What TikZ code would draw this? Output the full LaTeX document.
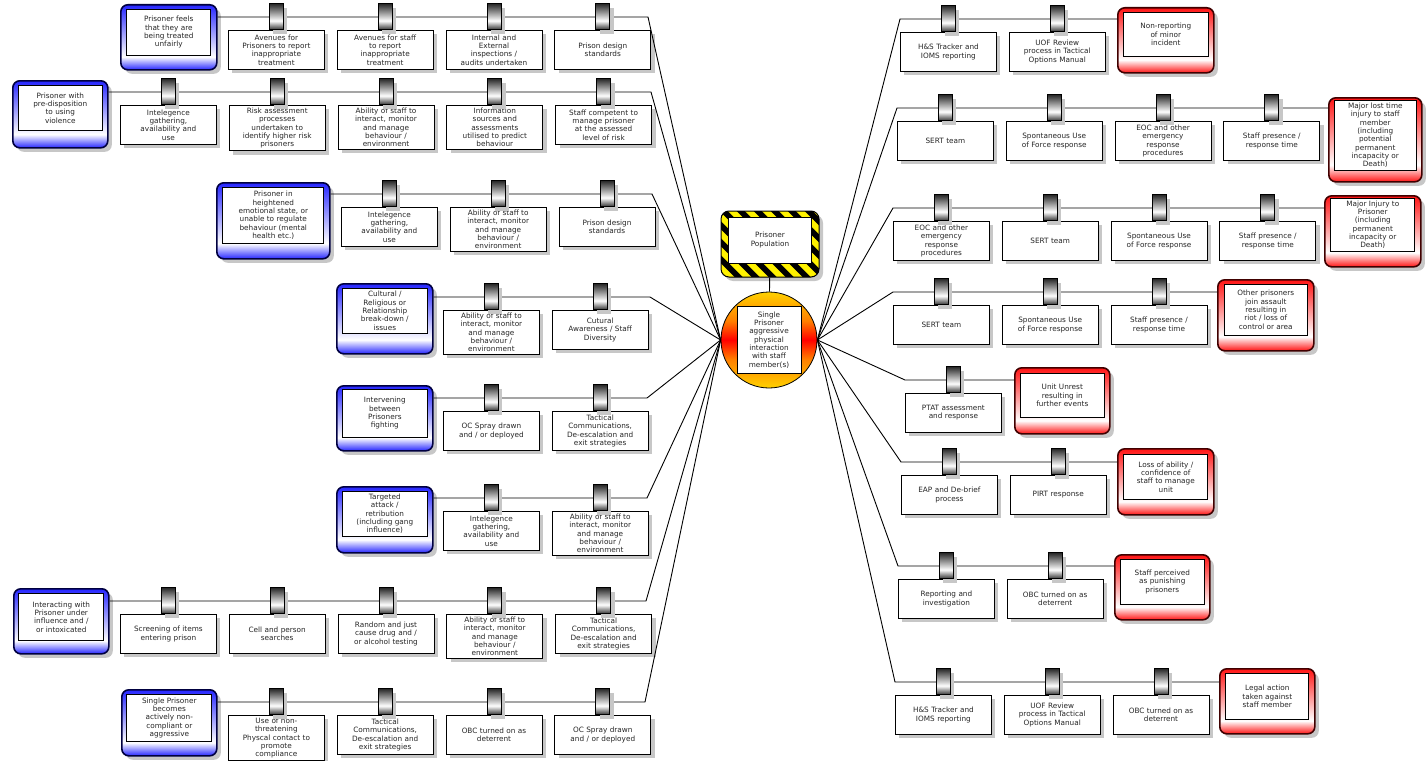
\documentclass[tikz,border=0pt]{standalone}
\usepackage{fontspec}
\setmainfont{DejaVu Sans}
\usetikzlibrary{calc,positioning,shadows}
\definecolor{thrblue}{rgb}{0.15,0.15,1.0}
\definecolor{thredge}{rgb}{0.0,0.0,0.25}
\definecolor{conred}{rgb}{1.0,0.08,0.08}
\definecolor{conedge}{rgb}{0.25,0.0,0.0}
\definecolor{evyellow}{rgb}{1.0,0.82,0.0}
\definecolor{evorange}{rgb}{1.0,0.5,0.0}
\definecolor{txtgray}{rgb}{0.15,0.15,0.15}
\definecolor{shgray}{rgb}{0.78,0.78,0.78}
\newcommand{\fnt}{\fontsize{7.3}{8.3}\selectfont}
\pgfdeclareverticalshading{blueband}{100bp}{color(0bp)=(thrblue); color(25bp)=(thrblue); color(35bp)=(white); color(75bp)=(thrblue); color(100bp)=(thrblue)}
\pgfdeclareverticalshading{redband}{100bp}{color(0bp)=(conred); color(25bp)=(conred); color(35bp)=(white); color(75bp)=(conred); color(100bp)=(conred)}
\pgfdeclareverticalshading{barrel}{100bp}{color(0bp)=(black!80); color(25bp)=(black!80); color(42bp)=(white); color(75bp)=(black!85); color(100bp)=(black!85)}
\pgfdeclareverticalshading{evshade}{100bp}{color(0bp)=(evyellow); color(25bp)=(evyellow); color(40bp)=(evorange); color(50bp)=(red); color(60bp)=(evorange); color(75bp)=(evyellow); color(100bp)=(evyellow)}

\begin{document}
\begin{tikzpicture}[x=1pt,y=-1pt,
    every node/.style={font=\fnt,text=txtgray},
    shdw/.style={drop shadow={shadow xshift=4pt,shadow yshift=-4pt,fill=shgray,opacity=1}},
    ctl/.style={draw=black,line width=0.8pt,fill=white,text width=92pt,inner xsep=2pt,inner ysep=2.5pt,
      align=center,minimum height=39pt,shdw,anchor=north west},
    rightof/.style={right=12pt of #1.north east,anchor=north west},
    barrier/.style={draw=black,line width=0.8pt,shade,shading=barrel,minimum width=14pt,minimum height=26pt,inner sep=0pt,shdw},
    threat/.style={draw=thredge,line width=1.6pt,rounded corners=7pt,shade,shading=blueband,inner sep=0pt,anchor=north west,shdw},
    conseq/.style={draw=conedge,line width=1.6pt,rounded corners=7pt,shade,shading=redband,inner sep=0pt,anchor=north west,shdw},
    inbox/.style={draw=black,line width=0.7pt,fill=white,align=center,inner xsep=2pt,inner ysep=0pt},
    event/.style={circle,draw=black,line width=0.8pt,shade,shading=evshade,minimum size=96pt,inner sep=0pt},
    hazard/.style={draw=black,line width=1pt,rounded corners=8pt,fill=black,minimum width=98pt,minimum height=66pt,inner sep=0pt,shdw,
      path picture={\foreach \k in {-7,...,6}
        \draw[yellow,line width=6pt] ($(path picture bounding box.north)+(\k*17pt-40pt,2pt)$) -- ++(80pt,-80pt);}},
    thread/.style={draw=black,line width=0.9pt}]
  \useasboundingbox (0,0) rectangle (1426,760);

  % hazard and top event
  \node[hazard] (hz) at (770,244) {};
  \node[inbox,minimum width=83pt,minimum height=46pt,below=6pt of hz.north] (hzx) {Prisoner\\Population};
  \node[event] (ev) at (769,340) {};
  \node[inbox,minimum width=64pt,minimum height=67pt] (evx) at (ev) {Single\\Prisoner\\aggressive\\physical\\interaction\\with staff\\member(s)};

  % threats
  \node[threat,minimum width=96pt,minimum height=65pt] (T1) at (120,4) {};
  \node[inbox,minimum width=84pt,minimum height=46pt,below=5pt of T1.north] (T1x) {Prisoner feels\\that they are\\being treated\\unfairly};
  \node[threat,minimum width=95pt,minimum height=67pt] (T2) at (12,80) {};
  \node[inbox,minimum width=84pt,minimum height=45pt,below=5pt of T2.north] (T2x) {Prisoner with\\pre-disposition\\to using\\violence};
  \node[threat,minimum width=113pt,minimum height=76pt] (T3) at (216,182) {};
  \node[inbox,minimum width=101pt,minimum height=56pt,below=5pt of T3.north] (T3x) {Prisoner in\\heightened\\emotional state, or\\unable to regulate\\behaviour (mental\\health etc.)};
  \node[threat,minimum width=96pt,minimum height=70pt] (T4) at (336,283) {};
  \node[inbox,minimum width=85pt,minimum height=45pt,below=5pt of T4.north] (T4x) {Cultural /\\Religious or\\Relationship\\break-down /\\issues};
  \node[threat,minimum width=96pt,minimum height=65pt] (T5) at (336,385) {};
  \node[inbox,minimum width=85pt,minimum height=48pt,below=4pt of T5.north] (T5x) {Intervening\\between\\Prisoners\\fighting};
  \node[threat,minimum width=96pt,minimum height=66pt] (T6) at (336,486) {};
  \node[inbox,minimum width=85pt,minimum height=45pt,below=5pt of T6.north] (T6x) {Targeted\\attack /\\retribution\\(including gang\\influence)};
  \node[threat,minimum width=95pt,minimum height=65pt] (T7) at (13,588) {};
  \node[inbox,minimum width=85pt,minimum height=47pt,below=5pt of T7.north] (T7x) {Interacting with\\Prisoner under\\influence and /\\or intoxicated};
  \node[threat,minimum width=95pt,minimum height=66pt] (T8) at (121,689) {};
  \node[inbox,minimum width=85pt,minimum height=47pt,below=5pt of T8.north] (T8x) {Single Prisoner\\becomes\\actively non-\\compliant or\\aggressive};

  % consequences
  \node[conseq,minimum width=96pt,minimum height=65pt] (C1) at (1117,7) {};
  \node[inbox,minimum width=85pt,minimum height=44pt,below=5pt of C1.north] (C1x) {Non-reporting\\of minor\\incident};
  \node[conseq,minimum width=93pt,minimum height=84pt] (C2) at (1328,97) {};
  \node[inbox,minimum width=82pt,minimum height=70pt,below=3pt of C2.north] (C2x) {Major lost time\\injury to staff\\member\\(including\\potential\\permanent\\incapacity or\\Death)};
  \node[conseq,minimum width=96pt,minimum height=71pt] (C3) at (1324,195) {};
  \node[inbox,minimum width=84pt,minimum height=53pt,below=3pt of C3.north] (C3x) {Major Injury to\\Prisoner\\(including\\permanent\\incapacity or\\Death)};
  \node[conseq,minimum width=96pt,minimum height=71pt] (C4) at (1217,279) {};
  \node[inbox,minimum width=83pt,minimum height=51pt,below=5pt of C4.north] (C4x) {Other prisoners\\join assault\\resulting in\\riot / loss of\\control or area};
  \node[conseq,minimum width=95pt,minimum height=66pt] (C5) at (1014,367) {};
  \node[inbox,minimum width=84pt,minimum height=44pt,below=6pt of C5.north] (C5x) {Unit Unrest\\resulting in\\further events};
  \node[conseq,minimum width=96pt,minimum height=66pt] (C6) at (1117,448) {};
  \node[inbox,minimum width=84pt,minimum height=45pt,below=6pt of C6.north] (C6x) {Loss of ability /\\confidence of\\staff to manage\\unit};
  \node[conseq,minimum width=95pt,minimum height=65pt] (C7) at (1114,554) {};
  \node[inbox,minimum width=84pt,minimum height=45pt,below=5pt of C7.north] (C7x) {Staff perceived\\as punishing\\prisoners};
  \node[conseq,minimum width=95pt,minimum height=65pt] (C8) at (1219,668) {};
  \node[inbox,minimum width=83pt,minimum height=46pt,below=5pt of C8.north] (C8x) {Legal action\\taken against\\staff member};

  % preventive controls
  \node[ctl] (a11) at (228,30) {Avenues for\\Prisoners to report\\inappropriate\\treatment};
  \node[ctl,rightof=a11] (a12) {Avenues for staff\\to report\\inappropriate\\treatment};
  \node[ctl,rightof=a12] (a13) {Internal and\\External\\inspections /\\audits undertaken};
  \node[ctl,rightof=a13] (a14) {Prison design\\standards};

  \node[ctl] (a21) at (120,105) {Intelegence\\gathering,\\availability and\\use};
  \node[ctl,rightof=a21] (a22) {Risk assessment\\processes\\undertaken to\\identify higher risk\\prisoners};
  \node[ctl,rightof=a22] (a23) {Ability of staff to\\interact, monitor\\and manage\\behaviour /\\environment};
  \node[ctl,rightof=a23] (a24) {Information\\sources and\\assessments\\utilised to predict\\behaviour};
  \node[ctl,rightof=a24] (a25) {Staff competent to\\manage prisoner\\at the assessed\\level of risk};

  \node[ctl] (a31) at (341,207) {Intelegence\\gathering,\\availability and\\use};
  \node[ctl,rightof=a31] (a32) {Ability of staff to\\interact, monitor\\and manage\\behaviour /\\environment};
  \node[ctl,rightof=a32] (a33) {Prison design\\standards};

  \node[ctl] (a41) at (443,310) {Ability of staff to\\interact, monitor\\and manage\\behaviour /\\environment};
  \node[ctl,rightof=a41] (a42) {Cutural\\Awareness / Staff\\Diversity};

  \node[ctl] (a51) at (443,411) {OC Spray drawn\\and / or deployed};
  \node[ctl,rightof=a51] (a52) {Tactical\\Communications,\\De-escalation and\\exit strategies};

  \node[ctl] (a61) at (443,511) {Intelegence\\gathering,\\availability and\\use};
  \node[ctl,rightof=a61] (a62) {Ability of staff to\\interact, monitor\\and manage\\behaviour /\\environment};

  \node[ctl] (a71) at (120,614) {Screening of items\\entering prison};
  \node[ctl,rightof=a71] (a72) {Cell and person\\searches};
  \node[ctl,rightof=a72] (a73) {Random and just\\cause drug and /\\or alcohol testing};
  \node[ctl,rightof=a73] (a74) {Ability of staff to\\interact, monitor\\and manage\\behaviour /\\environment};
  \node[ctl,rightof=a74] (a75) {Tactical\\Communications,\\De-escalation and\\exit strategies};

  \node[ctl] (a81) at (228,715) {Use of non-\\threatening\\Physcal contact to\\promote\\compliance};
  \node[ctl,rightof=a81] (a82) {Tactical\\Communications,\\De-escalation and\\exit strategies};
  \node[ctl,rightof=a82] (a83) {OBC turned on as\\deterrent};
  \node[ctl,rightof=a83] (a84) {OC Spray drawn\\and / or deployed};

  % mitigating controls
  \node[ctl] (b11) at (900,32) {H\&S Tracker and\\IOMS reporting};
  \node[ctl,rightof=b11] (b12) {UOF Review\\process in Tactical\\Options Manual};

  \node[ctl] (b21) at (897,121) {SERT team};
  \node[ctl,rightof=b21] (b22) {Spontaneous Use\\of Force response};
  \node[ctl,rightof=b22] (b23) {EOC and other\\emergency\\response\\procedures};
  \node[ctl,rightof=b23] (b24) {Staff presence /\\response time};

  \node[ctl] (b31) at (893,221) {EOC and other\\emergency\\response\\procedures};
  \node[ctl,rightof=b31] (b32) {SERT team};
  \node[ctl,rightof=b32] (b33) {Spontaneous Use\\of Force response};
  \node[ctl,rightof=b33] (b34) {Staff presence /\\response time};

  \node[ctl] (b41) at (893,305) {SERT team};
  \node[ctl,rightof=b41] (b42) {Spontaneous Use\\of Force response};
  \node[ctl,rightof=b42] (b43) {Staff presence /\\response time};

  \node[ctl] (b51) at (905,393) {PTAT assessment\\and response};

  \node[ctl] (b61) at (901,475) {EAP and De-brief\\process};
  \node[ctl,rightof=b61] (b62) {PIRT response};

  \node[ctl] (b71) at (898,579) {Reporting and\\investigation};
  \node[ctl,rightof=b71] (b72) {OBC turned on as\\deterrent};

  \node[ctl] (b81) at (895,695) {H\&S Tracker and\\IOMS reporting};
  \node[ctl,rightof=b81] (b82) {UOF Review\\process in Tactical\\Options Manual};
  \node[ctl,rightof=b82] (b83) {OBC turned on as\\deterrent};

  % threat lines into the event
  \coordinate (L1) at (648,17);  \coordinate (L2) at (651,92);
  \coordinate (L3) at (652,194); \coordinate (L4) at (650,297);
  \coordinate (L5) at (647,398); \coordinate (L6) at (647,498);
  \coordinate (L7) at (646,601); \coordinate (L8) at (645,702);
  \foreach \i in {1,...,8}
    \draw[thread] (T\i.east |- L\i) -- (L\i) -- (ev.west);

  % consequence lines out of the event
  \coordinate (R1) at (900,19);  \coordinate (R2) at (897,108);
  \coordinate (R3) at (893,208); \coordinate (R4) at (893,292);
  \coordinate (R5) at (905,380); \coordinate (R6) at (901,462);
  \coordinate (R7) at (898,566); \coordinate (R8) at (895,682);
  \foreach \i in {1,...,8}
    \draw[thread] (ev.east) -- (R\i) -- (C\i.west |- R\i);

  \draw[thread] (hz) -- (ev);

  % barriers sit on the lines, above each control
  \foreach \n in {a11,a12,a13,a14,a21,a22,a23,a24,a25,a31,a32,a33,a41,a42,a51,a52,a61,a62,%
      a71,a72,a73,a74,a75,a81,a82,a83,a84,b11,b12,b21,b22,b23,b24,b31,b32,b33,b34,%
      b41,b42,b43,b51,b61,b62,b71,b72,b81,b82,b83}
    \node[barrier,above=0pt of \n] (\n-bar) {};
\end{tikzpicture}
\end{document}
